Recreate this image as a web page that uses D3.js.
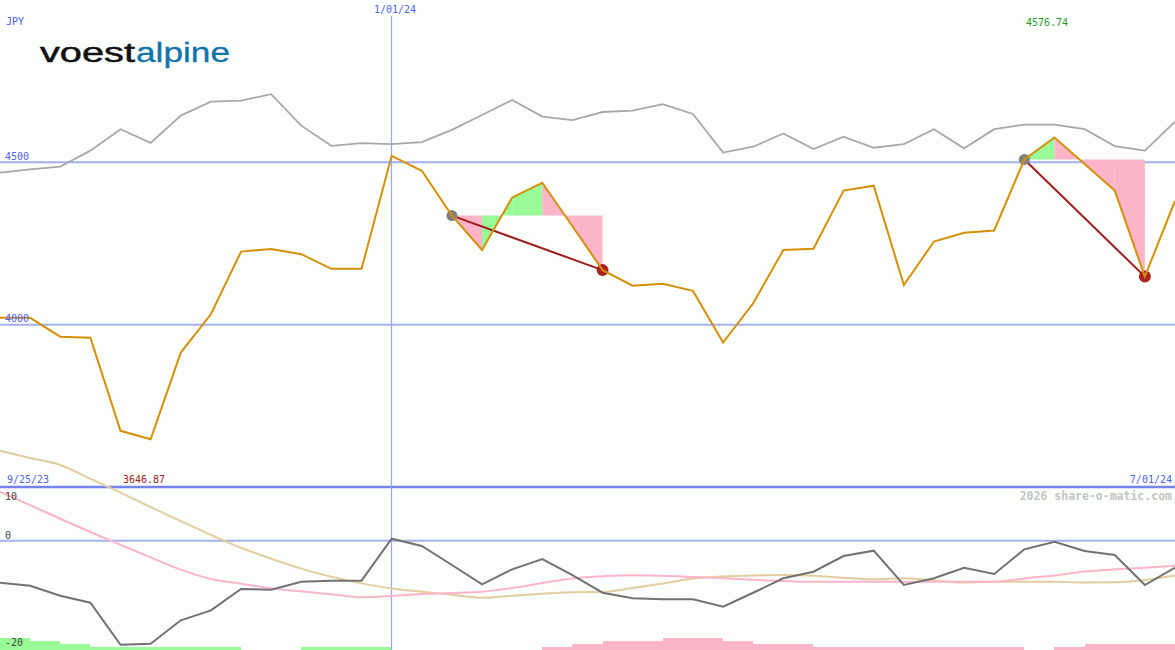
<!DOCTYPE html>
<html>
<head>
<meta charset="utf-8">
<script src="https://cdn.jsdelivr.net/npm/d3@7"></script>
<style>
  html, body { margin: 0; padding: 0; background: #fcfefc; }
  svg { display: block; }
  .mono { font-family: "DejaVu Sans Mono", "Liberation Mono", monospace; }
</style>
</head>
<body>
<svg id="chart" width="1175" height="650"></svg>
<script>
// ---------- data ----------
const dates = ["2023-10-02","2023-10-09","2023-10-16","2023-10-23","2023-10-30","2023-11-06","2023-11-13","2023-11-20","2023-11-27","2023-12-04","2023-12-11","2023-12-18","2023-12-25","2024-01-01","2024-01-08","2024-01-15","2024-01-22","2024-01-29","2024-02-05","2024-02-12","2024-02-19","2024-02-26","2024-03-04","2024-03-11","2024-03-18","2024-03-25","2024-04-01","2024-04-08","2024-04-15","2024-04-22","2024-04-29","2024-05-06","2024-05-13","2024-05-20","2024-05-27","2024-06-03","2024-06-10","2024-06-17","2024-06-24","2024-07-01"];
const price = [4021,4021,3963,3960,3673,3646.87,3914,4032,4225,4233,4217,4172,4172,4520,4474,4336,4230,4392,4437,4303,4168,4120,4126,4104,3945,4066,4230,4234,4413,4428,4122,4256,4283,4290,4509,4576.74,4495,4413,4148,4381];
const indexLine = [4468,4478,4487,4536,4602,4560,4644,4687,4690,4710,4613,4551,4559,4556,4562,4600,4646,4692,4641,4630,4655,4659,4679,4649,4530,4548,4589,4541,4579,4545,4556,4602,4543,4602,4616,4616,4602,4550,4536,4625];
const momentum = [-7.83,-8.39,-10.26,-11.56,-19.39,-19.20,-14.84,-12.98,-9.01,-9.14,-7.65,-7.46,-7.46,0.37,-0.99,-4.53,-8.13,-5.34,-3.42,-6.40,-9.70,-10.74,-10.93,-10.93,-12.30,-9.70,-7.01,-5.78,-2.86,-1.87,-8.26,-7.01,-5.04,-6.21,-1.61,-0.19,-1.93,-2.67,-8.26,-5.04];
const fastAvg = [9.12,6.61,4.09,1.61,-0.77,-3.12,-5.39,-7.14,-8.02,-8.89,-9.44,-9.99,-10.55,-10.31,-9.94,-9.75,-9.51,-8.82,-7.89,-7.05,-6.64,-6.45,-6.55,-6.77,-7.01,-7.29,-7.52,-7.65,-7.65,-7.65,-7.65,-7.65,-7.65,-7.65,-7.05,-6.49,-5.75,-5.34,-5.04,-4.68];
const slowAvg = [16.76,15.42,14.10,11.55,8.94,6.24,3.65,1.09,-1.33,-3.36,-5.21,-6.73,-7.96,-8.91,-9.51,-10.07,-10.63,-10.26,-9.88,-9.60,-9.57,-8.82,-7.98,-7.05,-6.68,-6.49,-6.40,-6.55,-6.90,-7.20,-7.01,-7.42,-7.80,-7.65,-7.65,-7.65,-7.80,-7.76,-7.33,-6.49];
// signal bars between consecutive weeks (positive = green, negative = pink)
const signalBars = [4,3,2,1,1,1,1,1,0,0,1,1,1,0,0,0,0,0,-1,-2,-3,-3,-4,-4,-3,-2,-2,-1,-1,-1,-1,-1,-1,-1,0,-1,-2,-2,-2];
// trade patterns: start index and end index
const patternStarts = [15, 34];
const patternEnds = [20, 38];
const priceTicks = [4500, 4000];
const lowerTicks = [10, 0, -20];
const markerDate = "2024-01-01";
const leftLabel = "9/25/23", rightLabel = "7/01/24", markerLabel = "1/01/24";
const currency = "JPY";
const minLabel = "3646.87", maxLabel = "4576.74";
const credit = "2026 share-o-matic.com";

// ---------- setup ----------
const W = 1175, H = 650;
const svg = d3.select("#chart");
const parse = d3.utcParse("%Y-%m-%d");
const dts = dates.map(parse);

const x = d3.scaleUtc().domain([dts[0], dts[dts.length - 1]]).range([0, W]);
const y = d3.scaleLinear().domain([3500, 5000]).range([487, 0]);
const y2 = d3.scaleLinear().domain([-20, 10]).range([648, 487]);
const yb = d3.scaleLinear().domain([0, 4]).range([650, 637.7]);

const GREEN = "#98fb98", PINK = "#fbb4c8";
const BLUE_TXT = "#4f5ff2";

svg.append("rect").attr("width", W).attr("height", H).attr("fill", "#fcfefc");

// ---------- bars in lower panel ----------
svg.append("g").selectAll("rect").data(signalBars.map((v, i) => ({v, i})).filter(d => d.v !== 0))
  .join("rect")
  .attr("x", d => x(dts[d.i]))
  .attr("width", d => x(dts[d.i + 1]) - x(dts[d.i]))
  .attr("y", d => yb(Math.abs(d.v)))
  .attr("height", d => yb(0) - yb(Math.abs(d.v)))
  .attr("fill", d => d.v > 0 ? GREEN : PINK)
  .attr("shape-rendering", "crispEdges");

// ---------- grid lines ----------
svg.append("g").selectAll("line").data(priceTicks).join("line")
  .attr("x1", 0).attr("x2", W)
  .attr("y1", d => y(d)).attr("y2", d => y(d))
  .attr("stroke", "#a3b0f2").attr("stroke-width", 2);

svg.append("line").attr("x1", 0).attr("x2", W)
  .attr("y1", y2(0)).attr("y2", y2(0))
  .attr("stroke", "#a3b0f2").attr("stroke-width", 2);

svg.append("line").attr("x1", 0).attr("x2", W)
  .attr("y1", 487).attr("y2", 487)
  .attr("stroke", "#7484ec").attr("stroke-width", 2.5);

const mx = Math.round(x(parse(markerDate))) - 0.5;
svg.append("line").attr("x1", mx).attr("x2", mx)
  .attr("y1", 16).attr("y2", H)
  .attr("stroke", "#98a4ff").attr("stroke-width", 1.2);

// ---------- upper panel ----------
const lineU = (arr) => d3.line().x((d, i) => x(dts[i])).y(d => y(d))(arr);

svg.append("path").attr("d", lineU(indexLine))
  .attr("fill", "none").attr("stroke", "#a8a8a8").attr("stroke-width", 1.8);

// pattern fills
const fillG = svg.append("g");
patternStarts.forEach((s, k) => {
  const e = patternEnds[k];
  const base = y(price[s]);
  for (let i = s; i < e; i++) {
    const seg = [i, i + 1];
    const area = d3.area()
      .x(j => x(dts[j]))
      .y0(base)
      .y1(j => y(price[j]));
    fillG.append("path").attr("d", area(seg))
      .attr("fill", price[i + 1] >= price[i] ? GREEN : PINK);
  }
});

// connectors and dots
patternStarts.forEach((s, k) => {
  const e = patternEnds[k];
  svg.append("line")
    .attr("x1", x(dts[s])).attr("y1", y(price[s]))
    .attr("x2", x(dts[e])).attr("y2", y(price[e]))
    .attr("stroke", "#a01c1c").attr("stroke-width", 2);
  svg.append("circle").attr("cx", x(dts[s])).attr("cy", y(price[s])).attr("r", 5.5).attr("fill", "#808080");
  svg.append("circle").attr("cx", x(dts[e])).attr("cy", y(price[e])).attr("r", 6).attr("fill", "#a82222");
});

svg.append("path").attr("d", lineU(price))
  .attr("fill", "none").attr("stroke", "#d4900a").attr("stroke-width", 2).attr("stroke-linejoin", "miter");

// ---------- lower panel lines ----------
const lineL = (arr, curve) => d3.line().curve(curve).x((d, i) => x(dts[i])).y(d => y2(d))(arr);

svg.append("path").attr("d", lineL(slowAvg, d3.curveMonotoneX))
  .attr("fill", "none").attr("stroke", "#e3cd9e").attr("stroke-width", 2);
svg.append("path").attr("d", lineL(fastAvg, d3.curveMonotoneX))
  .attr("fill", "none").attr("stroke", "#fbb4c8").attr("stroke-width", 2);
svg.append("path").attr("d", lineL(momentum, d3.curveLinear))
  .attr("fill", "none").attr("stroke", "#727272").attr("stroke-width", 2);

// ---------- texts ----------
const txt = (t, px, py, color, opts = {}) => svg.append("text")
  .attr("class", "mono").attr("x", px).attr("y", py)
  .attr("fill", color).attr("font-size", opts.size || 10)
  .attr("font-weight", opts.weight || "normal")
  .attr("text-anchor", opts.anchor || "start")
  .text(t);

txt(currency, 6, 25, BLUE_TXT);
priceTicks.forEach(v => txt(String(v), 5, y(v) - 2.5, BLUE_TXT));
txt(markerLabel, mx + 3.5, 12.5, BLUE_TXT, {anchor: "middle"});
txt(maxLabel, 1026, 25.5, "#1f9a1f");
txt(leftLabel, 7, 483, BLUE_TXT);
txt(minLabel, 123, 483, "#a01c1c");
txt(rightLabel, 1172, 483, BLUE_TXT, {anchor: "end"});
txt(credit, 1172, 500, "#c4c4c4", {anchor: "end", size: 11.5, weight: "bold"});
txt(String(lowerTicks[0]), 5, 499.5, "#444444");
txt(String(lowerTicks[1]), 5, 538.5, "#444444");
txt(String(lowerTicks[2]), 5, 646, "#444444");

// logo
const logo = svg.append("g").attr("font-family", "'Liberation Sans', Arial, sans-serif").attr("font-size", 27.5);
logo.append("text").attr("x", 40).attr("y", 61.5).attr("fill", "#111111")
  .attr("stroke", "#111111").attr("stroke-width", 0.5)
  .attr("textLength", 95).attr("lengthAdjust", "spacingAndGlyphs").text("voest");
logo.append("text").attr("x", 136).attr("y", 61.5).attr("fill", "#0f74aa")
  .attr("stroke", "#0f74aa").attr("stroke-width", 0.3)
  .attr("textLength", 94).attr("lengthAdjust", "spacingAndGlyphs").text("alpine");
</script>
</body>
</html>
